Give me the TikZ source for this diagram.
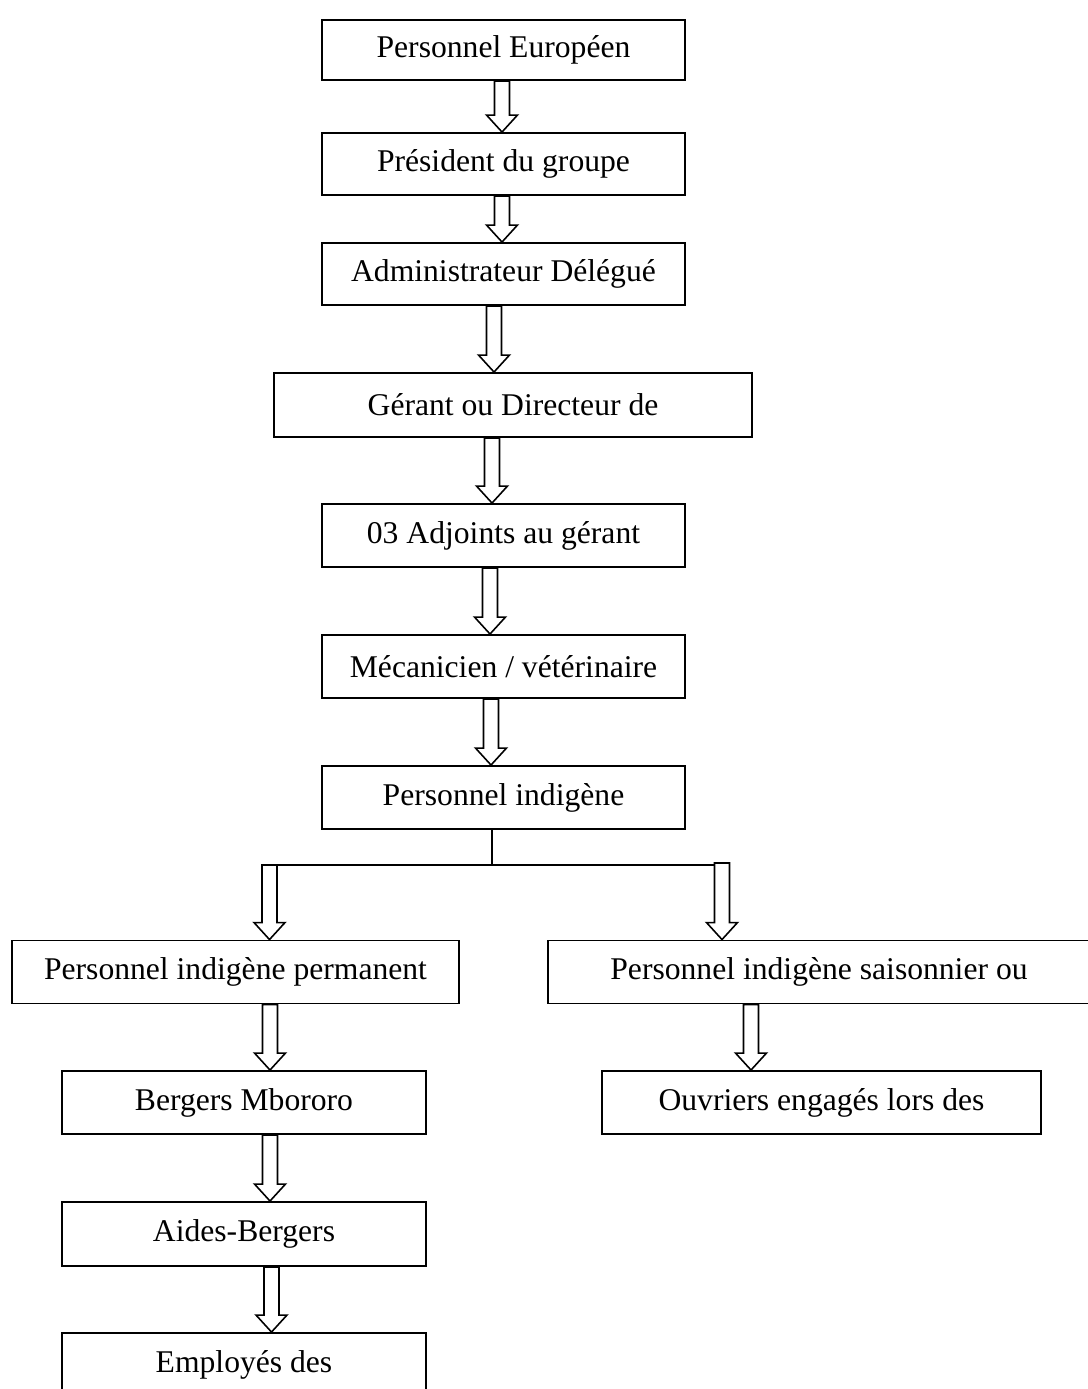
\documentclass[tikz,border=0pt]{standalone}
\usepackage{fontspec}
\setmainfont{Liberation Serif}
\usetikzlibrary{calc, positioning}

% hollow block arrow from a point straight down to another point
\newcommand{\blockarrow}[2]{%
  \draw[blockarr] let \p1=#1, \p2=#2 in
    (\x1-0.15cm,\y1) -- (\x1-0.15cm,\y2+0.34cm) -- (\x1-0.31cm,\y2+0.34cm) -- (\x1,\y2)
    -- (\x1+0.31cm,\y2+0.34cm) -- (\x1+0.15cm,\y2+0.34cm) -- (\x1+0.15cm,\y1) -- cycle;}

\begin{document}
\begin{tikzpicture}[
    x=0.02cm, y=0.02cm,
    font=\fontsize{18pt}{22pt}\selectfont,
    box/.style={draw=black, line width=1.1pt, inner sep=0pt, align=center, minimum width=7.26cm, minimum height=1.26cm},
    blockarr/.style={draw=black, line width=0.9pt, fill=white, line join=miter},
    link/.style={draw=black, line width=0.9pt}
]
\useasboundingbox (0,0) rectangle (1088,-1389);

\node[box, minimum height=1.2cm] (b1) at (503.5,-50) {Personnel Européen};
\node[box, minimum height=1.24cm] (b2) at (503.5,-164) {Président du groupe};
\node[box, minimum height=1.24cm] (b3) at (503.5,-274) {Administrateur Délégué};
\node[box, minimum width=9.56cm, minimum height=1.28cm] (b4) at (513,-405) {Gérant ou Directeur de};
\node[box] (b5) at (503.5,-535.5) {03 Adjoints au gérant};
\node[box] (b6) at (503.5,-666.5) {Mécanicien / vétérinaire};
\node[box] (b7) at (503.5,-797.5) {Personnel indigène};

\node[box, minimum width=8.94cm] (b8) at (235.5,-972) {Personnel indigène permanent};
\node[box, minimum width=10.84cm] (b9) at (819,-972) {Personnel indigène saisonnier ou};

\node[box, minimum width=7.28cm] (b10) at (244,-1102.5) {Bergers Mbororo};
\node[box, minimum width=8.78cm] (b11) at (821.5,-1102.5) {Ouvriers engagés lors des};
\node[box, minimum width=7.28cm, minimum height=1.28cm] (b12) at (244,-1234) {Aides-Bergers};
\node[box, minimum width=7.28cm] (b13) at (244,-1364.5) {Employés des};

% main column
\blockarrow{($(b1.south)+(-1.5,0)$)}{($(b2.north)+(-1.5,0)$)}
\blockarrow{($(b2.south)+(-1.5,0)$)}{($(b3.north)+(-1.5,0)$)}
\blockarrow{($(b3.south)+(-9.5,0)$)}{($(b3.south |- b4.north)+(-9.5,0)$)}
\blockarrow{($(b5.north |- b4.south)+(-11.5,0)$)}{($(b5.north)+(-11.5,0)$)}
\blockarrow{($(b5.south)+(-13.5,0)$)}{($(b6.north)+(-13.5,0)$)}
\blockarrow{($(b6.south)+(-12.5,0)$)}{($(b7.north)+(-12.5,0)$)}

% split
\coordinate (split) at ($(b7.south)+(-11.5,-36)$);
\coordinate (sl) at (262,-865);
\coordinate (sr) at (722,-865);
\draw[link] (b7.south -| split) -- (split);
\draw[link] (sl) -- (sr);
\blockarrow{($(sl)+(7.5,0)$)}{($(b8.north -| sl)+(7.5,0)$)}
\blockarrow{($(sr)+(0,2)$)}{(b9.north -| sr)}

% branches
\blockarrow{($(b8.south -| b10.north)+(26,0)$)}{($(b10.north)+(26,0)$)}
\blockarrow{($(b9.south -| b11.north)+(-70.5,0)$)}{($(b11.north)+(-70.5,0)$)}
\blockarrow{($(b10.south)+(26,0)$)}{($(b12.north)+(26,0)$)}
\blockarrow{($(b12.south)+(27.5,0)$)}{($(b13.north)+(27.5,0)$)}
\end{tikzpicture}
\end{document}
